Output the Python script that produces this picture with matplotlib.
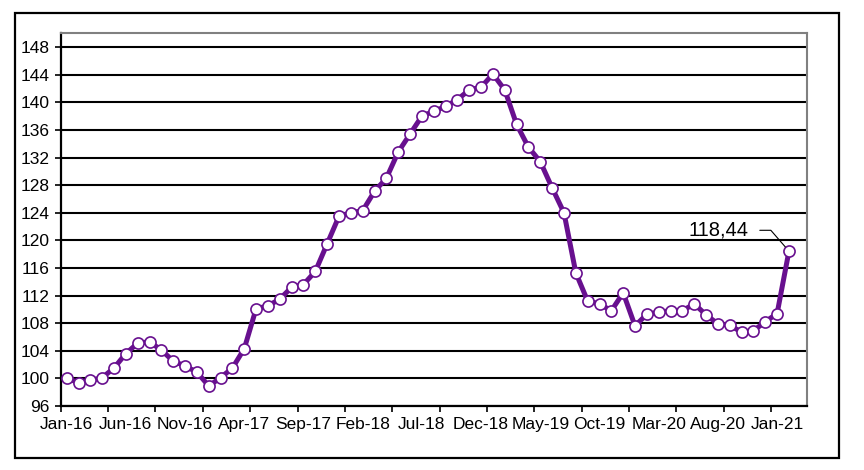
import matplotlib.pyplot as plt
from matplotlib.patches import Rectangle

# monthly index, Jan-16 .. Feb-21 (axis has room for Mar-21 too)
values = [100.0, 99.4, 99.7, 100.1, 101.5, 103.6, 105.1, 105.3, 104.1, 102.5,
          101.8, 100.9, 98.9, 100.1, 101.5, 104.3, 110.1, 110.5, 111.5, 113.2,
          113.6, 115.5, 119.5, 123.5, 124.0, 124.3, 127.1, 129.0, 132.8, 135.4,
          138.0, 138.7, 139.4, 140.4, 141.8, 142.2, 144.1, 141.8, 136.8, 133.5,
          131.4, 127.6, 124.0, 115.3, 111.2, 110.8, 109.8, 112.4, 107.6, 109.3,
          109.6, 109.8, 109.8, 110.8, 109.2, 107.9, 107.7, 106.7, 106.9, 108.2,
          109.4, 118.44]
n_categories = 63
tick_labels = ["Jan-16", "Jun-16", "Nov-16", "Apr-17", "Sep-17", "Feb-18", "Jul-18",
               "Dec-18", "May-19", "Oct-19", "Mar-20", "Aug-20", "Jan-21"]
label_step = 5
tick_step = 4
last_label = "118,44"

plt.rcParams['font.family'] = ['Liberation Sans', 'DejaVu Sans']

fig = plt.figure(figsize=(8.64, 4.70), dpi=100)
ax = fig.add_axes([0.0703, 0.1362, 0.8634, 0.7929])

purple = '#68108f'
x = list(range(len(values)))
ax.plot(x, values, color=purple, lw=3.6, marker='o', ms=8,
        mfc='white', mec=purple, mew=1.2, zorder=3)

ax.set_xlim(-0.5, n_categories - 0.5)
ax.set_ylim(96, 150)
ax.set_yticks(range(96, 149, 4))
ax.grid(axis='y', color='black', lw=1.5)
ax.set_axisbelow(True)

# tick marks on category boundaries, labels centred on categories
ax.set_xticks([b - 0.5 for b in range(0, n_categories - 2, tick_step)])
ax.set_xticklabels([])
ax.set_xticks(list(range(0, len(tick_labels) * label_step, label_step)), minor=True)
ax.set_xticklabels(tick_labels, minor=True, fontsize=12.5)
ax.tick_params(axis='x', which='major', direction='out', length=4, width=1.2, color='black')
ax.tick_params(axis='x', which='minor', length=0, pad=8)
ax.tick_params(axis='y', direction='out', length=4, width=1.2, labelsize=12.5, pad=4)

for s in ['left', 'bottom']:
    ax.spines[s].set_color('black')
    ax.spines[s].set_linewidth(1.6)
for s in ['top', 'right']:
    ax.spines[s].set_color('#808080')
    ax.spines[s].set_linewidth(1.5)

ax.annotate(last_label, xy=(x[-1], values[-1]), xytext=(-29, 15),
            textcoords='offset points', ha='right', va='center', fontsize=14.5,
            arrowprops=dict(arrowstyle='-', color='black', lw=0.8,
                            connectionstyle='angle,angleA=0,angleB=-49,rad=0',
                            relpos=(1, 0.5), shrinkA=6, shrinkB=4))

fig.patches.append(Rectangle((0.0174, 0.0262), 0.954, 0.9455, transform=fig.transFigure,
                             fill=False, edgecolor='black', lw=1.6))

fig.savefig('out.png', dpi=100)
